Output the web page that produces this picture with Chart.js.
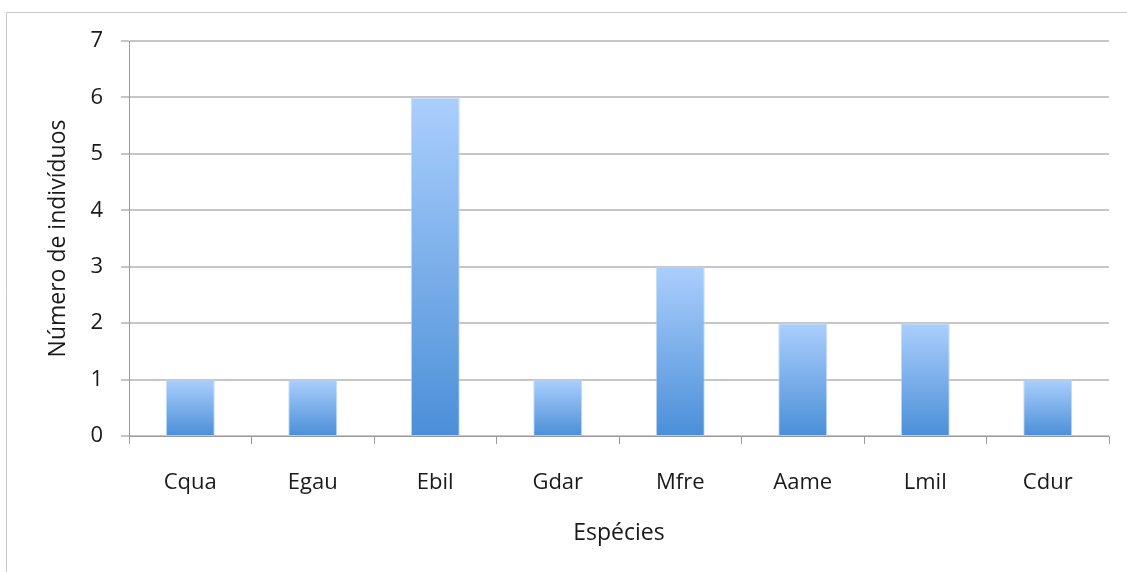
<!DOCTYPE html>
<html>
<head>
<meta charset="utf-8">
<script src="https://cdn.jsdelivr.net/npm/chart.js@4/dist/chart.umd.min.js"></script>
<style>
  html, body { margin: 0; padding: 0; background: #fff; }
  #wrap { position: relative; width: 1127px; height: 572px; }
</style>
</head>
<body>
<div id="wrap"><canvas id="speciesChart" width="1127" height="572"></canvas></div>
<script>
const species = ['Cqua', 'Egau', 'Ebil', 'Gdar', 'Mfre', 'Aame', 'Lmil', 'Cdur'];
const individuals = [1, 1, 6, 1, 3, 2, 2, 1];
const yTicks = [0, 1, 2, 3, 4, 5, 6, 7];

const fontFamily = '"Open Sans", Lato, sans-serif';

// frame around the whole chart, like the spreadsheet chart border
const framePlugin = {
    id: 'frame',
    beforeDraw(chart) {
        const ctx = chart.ctx;
        ctx.save();
        ctx.strokeStyle = '#c9c9c9';
        ctx.lineWidth = 1;
        ctx.beginPath();
        ctx.moveTo(6.5, 572);
        ctx.lineTo(6.5, 12.5);
        ctx.lineTo(1127, 12.5);
        ctx.stroke();
        ctx.restore();
    }
};

function barGradient(context) {
    const chart = context.chart;
    const yScale = chart.scales.y;
    if (!chart.chartArea || !yScale) return '#7fb0ee';
    const value = context.raw;
    const top = yScale.getPixelForValue(value);
    const bottom = yScale.getPixelForValue(0);
    const g = chart.ctx.createLinearGradient(0, top, 0, bottom);
    g.addColorStop(0, '#abcffd');
    g.addColorStop(1, '#4b8fd8');
    return g;
}

const ctx = document.getElementById('speciesChart').getContext('2d');
new Chart(ctx, {
    type: 'bar',
    data: {
        labels: species,
        datasets: [{
            label: 'Número de indivíduos',
            data: individuals,
            backgroundColor: barGradient,
            borderColor: 'rgba(190, 215, 245, 0.9)',
            borderWidth: 1,
            barPercentage: 0.4,
            categoryPercentage: 1.0
        }]
    },
    options: {
        responsive: false,
        animation: false,
        layout: { padding: { top: 41, right: 18, left: 0, bottom: 0 } },
        plugins: {
            legend: { display: false },
            tooltip: { enabled: false }
        },
        scales: {
            x: {
                afterFit: scale => { scale.height = 136; },
                grid: {
                    offset: true,
                    drawOnChartArea: false,
                    drawTicks: true,
                    tickLength: 8,
                    color: '#9a9a9a'
                },
                border: { color: '#9a9a9a', width: 1 },
                ticks: {
                    padding: 26,
                    color: '#1a1a1a',
                    font: { family: fontFamily, size: 22 }
                },
                title: {
                    display: true,
                    text: 'Espécies',
                    color: '#1a1a1a',
                    font: { family: fontFamily, size: 23 },
                    padding: { top: 0, bottom: 25 }
                }
            },
            y: {
                min: 0,
                max: 7,
                afterFit: scale => { scale.width = 129; },
                afterBuildTicks: scale => {
                    scale.ticks = yTicks.map(v => ({ value: v }));
                },
                grid: {
                    color: '#c6c6c6',
                    lineWidth: 2,
                    tickLength: 8
                },
                border: { color: '#9a9a9a', width: 1 },
                ticks: {
                    padding: 18,
                    color: '#1a1a1a',
                    font: { family: fontFamily, size: 22 }
                },
                title: {
                    display: true,
                    text: 'Número de indivíduos',
                    color: '#1a1a1a',
                    font: { family: fontFamily, size: 23 },
                    padding: { top: 45, bottom: 0 }
                }
            }
        }
    },
    plugins: [framePlugin]
});
</script>
</body>
</html>
